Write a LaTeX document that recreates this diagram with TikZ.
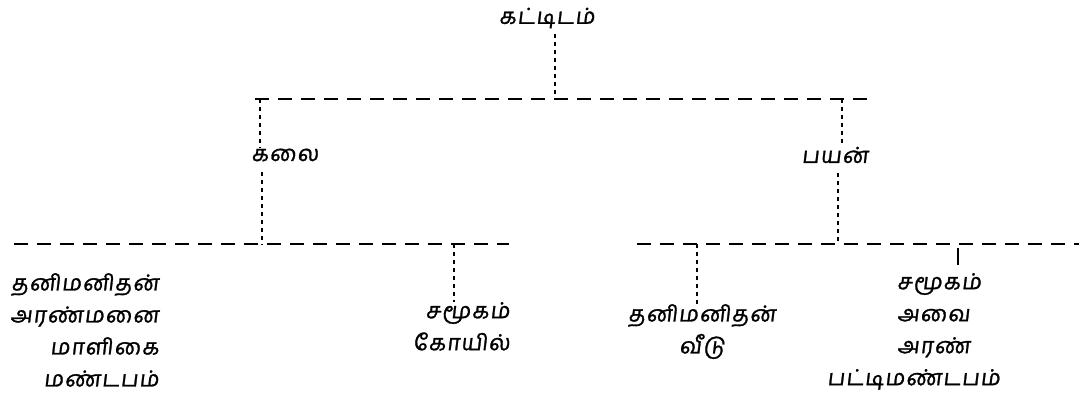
\documentclass[tikz,border=0pt]{standalone}
\usepackage{fontspec}
\newfontfamily\ta[Script=Tamil,FakeSlant=0.12,FakeBold=1.2,LetterSpace=6]{Hind Madurai}
\begin{document}
\begin{tikzpicture}[x=1pt,y=-1pt,
  lab/.style={font=\ta\fontsize{22}{32}\selectfont, inner sep=0pt},
  hdash/.style={line width=1.6pt, dash pattern=on 14pt off 9pt},
  vdash/.style={line width=1.2pt, dash pattern=on 4pt off 4pt}]
\useasboundingbox[fill=white] (0,0) rectangle (1079,403);
% nodes
\node[lab] (root) at (547,18) {கட்டிடம்};
\node[lab] (kalai) at (285,155) {கலை};
\node[lab] (payan) at (835,155) {பயன்};
\node[lab, anchor=north west, align=right] (c1) at (10,273) {தனிமனிதன்\\அரண்மனை\\மாளிகை\\மண்டபம்};
\node[lab, anchor=north east, align=right] (c2) at (510,302) {சமூகம்\\கோயில்};
\node[lab, anchor=north, align=center] (c3) at (702,304) {தனிமனிதன்\\வீடு};
\node[lab, anchor=north west, align=left] (c4) at (897,273) {சமூகம்\\அவை\\அரண்\\\hspace*{-70pt}பட்டிமண்டபம்};
% junction coordinates
\coordinate (tl) at (255,99);
\coordinate (tr) at (867,99);
\coordinate (t1) at (555,99);
\coordinate (tk) at (260,99);
\coordinate (tp) at (842,99);
\coordinate (ll) at (14,244);
\coordinate (lr) at (509,244);
\coordinate (rl) at (637,244);
\coordinate (rr) at (1079,244);
\coordinate (lk) at (262,244);
\coordinate (l2) at (454,244);
\coordinate (rp) at (838,244);
\coordinate (r3) at (697,244);
\coordinate (r4) at (958,244);
% horizontal dashed lines
\draw[hdash] (tl) -- (tr);
\draw[hdash] (ll) -- (lr);
\draw[hdash] (rl) -- (rr);
% vertical connectors
\draw[vdash] (t1 |- root.south) ++(0,6) -- (t1);
\draw[vdash] (tk) -- (tk |- kalai.north);
\draw[vdash] (tp) -- (tp |- payan.north);
\draw[vdash] (lk |- kalai.south) ++(0,10) -- (lk);
\draw[vdash] (rp |- payan.south) ++(0,10) -- (rp);
\draw[vdash] (l2) -- (l2 |- c2.north);
\draw[vdash] (r3) -- (r3 |- c3.north);
\draw[line width=1.3pt] (r4) ++(0,4) -- (958,265);
\end{tikzpicture}
\end{document}
